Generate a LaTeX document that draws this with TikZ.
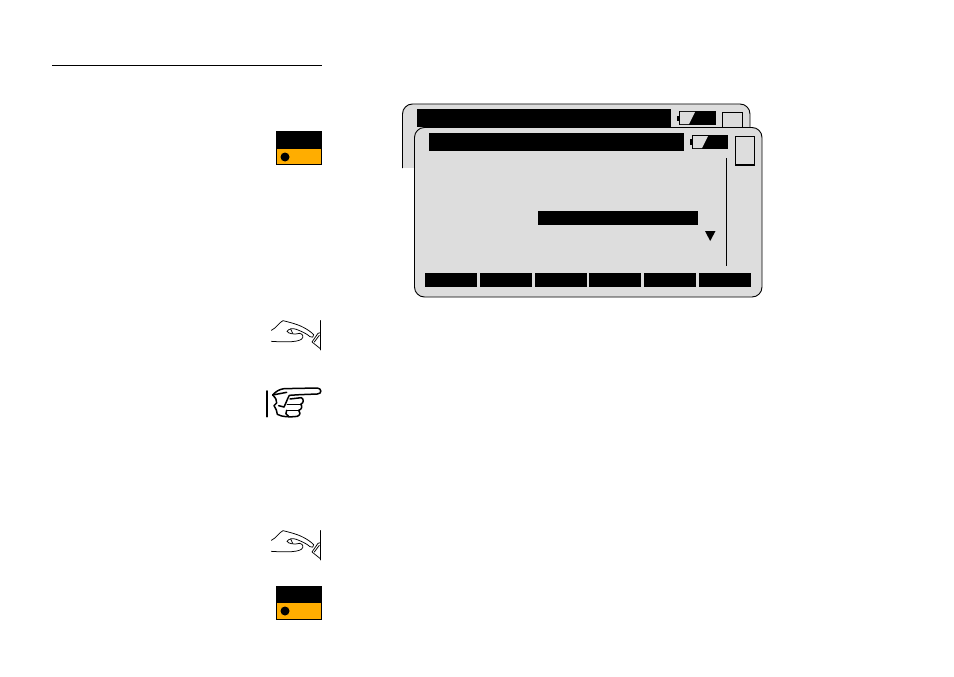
\documentclass[tikz,border=0pt]{standalone}
\definecolor{lcd}{HTML}{DDDDDD}
\definecolor{amber}{HTML}{FFAD00}
\tikzset{
  panel/.style={fill=lcd,draw=black,line width=0.9pt,rounded corners=10pt},
  blk/.style={fill=black,draw=none},
  handline/.style={draw=black,line width=0.75pt,line cap=round,line join=round},
  fingerline/.style={draw=black,line width=1.5pt,line cap=round,line join=round}
}
\newcommand{\amberkey}[2]{%
  \fill[amber] (276,#1) rectangle (322,#1+33);
  \fill[black] (276,#1) rectangle (322,#1+17);
  \draw[black,line width=0.8pt] (276.4,#1) rectangle (321.6,#1+33);
  \fill[black] (285,#2) circle (4.5);
}
\newcommand{\presshand}[1]{%
  \begin{scope}[shift={(268,#1)},x=0.3333pt,y=-0.3333pt]
    \draw[handline] (10,37) .. controls (25,30) and (35,12) .. (45,8) .. controls (62,12) and (85,18) .. (100,25) .. controls (115,32) and (130,42) .. (137,50) .. controls (138,58) and (132,60) .. (126,56) .. controls (115,46) and (100,40) .. (85,34);
    \draw[handline] (85,34) .. controls (75,30) and (62,32) .. (57,40) .. controls (62,48) and (80,50) .. (95,46) .. controls (106,48) and (108,58) .. (100,64) .. controls (85,74) and (40,72) .. (10,70);
    \draw[handline] (68,33) -- (74,46);
    \draw[handline,line width=0.9pt] (158,8) -- (158,96);
    \draw[handline] (157,44) -- (150,46) -- (132,72) -- (157,92);
    \draw[handline] (139,72) -- (154,52);
  \end{scope}}
\begin{document}
\begin{tikzpicture}[x=1pt,y=-1pt]
\useasboundingbox[fill=white] (0,0) rectangle (954,677);
\draw[black,line width=0.8pt] (52,65.5) -- (322,65.5);
% back panel
\fill[lcd,rounded corners=10pt] (402,168) -- (402,104) -- (750,104) -- (750,135) -- (402,135) -- cycle;
\fill[lcd] (402,120) rectangle (415,168);
\draw[black,line width=0.9pt,rounded corners=10pt] (402.5,168) -- (402.5,104) -- (750,104) -- (750,128);
\fill[blk] (417,109) rectangle (671,127);
\draw[black,line width=0.8pt] (722.5,127) -- (722.5,112) -- (742,112) -- (742,127);
\fill[black] (677,116) rectangle (680,121);
\fill[black] (679,111) rectangle (716,125);
\fill[lcd] (680,112) -- (695,112) -- (689,124) -- (680,124) -- cycle;
% front panel
\path[panel] (414.5,127.5) rectangle (762,297);
\fill[blk] (429,133) rectangle (684,151);
\fill[black] (690,139) rectangle (693,145);
\fill[black] (692,135) rectangle (728,149);
\fill[lcd] (693,136) -- (708,136) -- (702,148) -- (693,148) -- cycle;
\draw[black,line width=0.8pt] (735.5,136) rectangle (754,164.5);
\draw[black,line width=1.6pt] (735,165) -- (754.5,165);
\draw[black,line width=0.8pt] (726.5,158) -- (726.5,266);
\fill[blk] (538,211) rectangle (698,225);
\fill[black] (705,231) -- (715.5,231) -- (710.2,241) -- cycle;
\foreach \a/\b in {425/477,480/532,535/587,589/641,644/696,699/751}
  \fill[blk] (\a,273) rectangle (\b,287);
% amber keys
\amberkey{131.5}{157}
\amberkey{586}{611}
% hands
\presshand{318}
\presshand{528}
% pointing hand
\begin{scope}[shift={(264,385)},x=0.3333pt,y=-0.3333pt]
  \draw[fingerline,line width=1.7pt] (8,18) -- (8,95);
  \draw[fingerline] (26,30) .. controls (35,20) and (45,13) .. (60,11) -- (160,9) .. controls (174,10) and (174,27) .. (160,27) -- (108,29) -- (76,31) .. controls (70,42) and (66,54) .. (60,66);
  \draw[fingerline] (26,30) -- (68,22);
  \draw[fingerline] (26,30) .. controls (34,38) and (40,46) .. (38,54) -- (30,62) .. controls (36,72) and (40,80) .. (40,88) .. controls (55,96) and (75,97) .. (100,94) .. controls (110,90) and (110,80) .. (104,76) .. controls (114,74) and (116,62) .. (110,58) .. controls (120,54) and (120,42) .. (112,38) -- (78,42);
  \draw[fingerline] (70,58) -- (110,58);
  \draw[fingerline] (68,76) -- (104,76);
  \draw[fingerline] (68,76) .. controls (62,82) and (66,92) .. (74,94);
  \draw[fingerline] (44,62) -- (60,66);
\end{scope}
\end{tikzpicture}
\end{document}
